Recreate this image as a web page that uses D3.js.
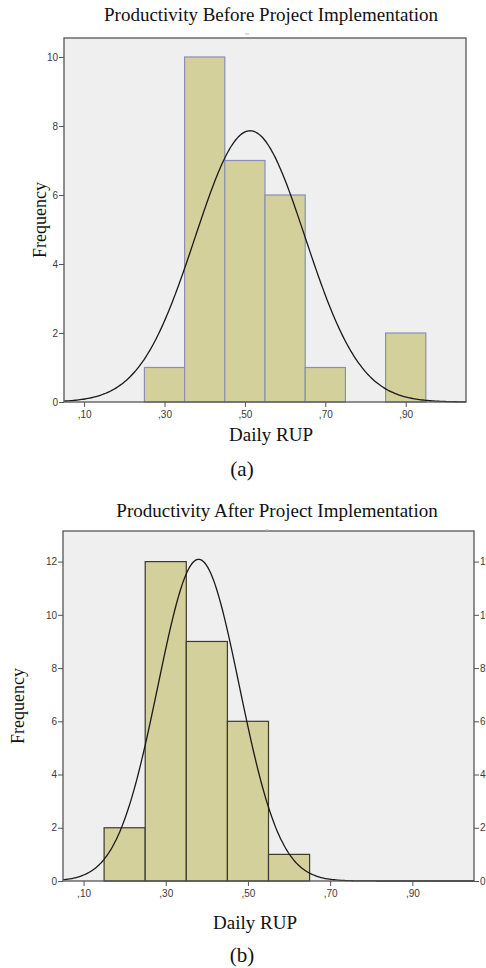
<!DOCTYPE html>
<html>
<head>
<meta charset="utf-8">
<script src="https://cdn.jsdelivr.net/npm/d3@7"></script>
<style>
  body { margin: 0; background: #fff; }
  .tick text { font-family: "Liberation Sans", Arial, sans-serif; font-size: 10px; fill: #3a3a3a; }
  .serif { font-family: "Liberation Serif", "Times New Roman", serif; fill: #111; }
</style>
</head>
<body>
<div id="chart"></div>
<script>
// bin centres (bin width 0.1) and counts
const binWidth = 0.1
const binsBefore   = [0.3, 0.4, 0.5, 0.6, 0.7, 0.8, 0.9]
const countsBefore = [1, 10, 7, 6, 1, 0, 2]
const binsAfter    = [0.2, 0.3, 0.4, 0.5, 0.6]
const countsAfter  = [2, 12, 9, 6, 1]

// fitted normal curve (mean, std. dev.)
const fitBefore = {mean: 0.513, sd: 0.137}
const fitAfter  = {mean: 0.380, sd: 0.099}

const xTicks = [0.1, 0.3, 0.5, 0.7, 0.9]
const yTicksBefore = [0, 2, 4, 6, 8, 10]
const yTicksAfter  = [0, 2, 4, 6, 8, 10, 12]

const fmt = d => d3.format('.2f')(d).replace('0.', ',')

let svg = d3.select('#chart').append('svg')
    .attr('width', 486)
    .attr('height', 968)

function drawPanel(o){
    let g = svg.append('g')
    let x = d3.scaleLinear().domain([0.05, 1.05]).range([o.left, o.right])
    let y = d3.scaleLinear().domain([0, o.yMax]).range([o.bottom, o.top])

    // plot background
    g.append('rect')
        .attr('x', o.left).attr('y', o.top)
        .attr('width', o.right - o.left).attr('height', o.bottom - o.top)
        .attr('fill', '#efefef')

    let n = d3.sum(o.counts)
    g.selectAll('rect.bar')
        .data(o.bins.map((b, i) => ({b: b, c: o.counts[i]})).filter(d => d.c > 0))
        .enter()
        .append('rect')
        .attr('class', 'bar')
        .attr('x', d => x(d.b - binWidth/2))
        .attr('width', d => x(d.b + binWidth/2) - x(d.b - binWidth/2))
        .attr('y', d => y(d.c))
        .attr('height', d => y(0) - y(d.c))
        .attr('fill', '#d4d09b')
        .attr('stroke', o.barStroke)
        .attr('stroke-width', 1.2)

    // normal curve scaled to counts
    let pts = d3.range(0.05, 1.0501, 0.004).map(v => [v,
        n * binWidth / (o.fit.sd * Math.sqrt(2*Math.PI)) *
        Math.exp(-0.5 * Math.pow((v - o.fit.mean)/o.fit.sd, 2))])
    g.append('path')
        .datum(pts)
        .attr('fill', 'none')
        .attr('stroke', '#1a1a1a')
        .attr('stroke-width', 1.3)
        .attr('d', d3.line().x(d => x(d[0])).y(d => y(d[1])).curve(d3.curveBasis))

    // frame
    g.append('rect')
        .attr('x', o.left).attr('y', o.top)
        .attr('width', o.right - o.left).attr('height', o.bottom - o.top)
        .attr('fill', 'none')
        .attr('stroke', '#555').attr('stroke-width', 1.3)

    let ax = g.append('g').attr('transform', `translate(0,${o.bottom})`)
        .call(d3.axisBottom(x).tickValues(xTicks).tickFormat(fmt).tickSize(5).tickPadding(4))
    ax.select('.domain').remove()

    let ay = g.append('g').attr('transform', `translate(${o.left},0)`)
        .call(d3.axisLeft(y).tickValues(o.yTicks).tickSize(5).tickPadding(1))
    ay.select('.domain').remove()

    if (o.rightAxis){
        let ar = g.append('g').attr('transform', `translate(${o.right},0)`)
            .call(d3.axisRight(y).tickValues(o.yTicks).tickSize(5).tickPadding(1))
        ar.select('.domain').remove()
    }
    g.selectAll('.tick line').attr('stroke', '#555')

    g.append('text').attr('class', 'serif')
        .attr('x', o.titleX).attr('y', o.titleY)
        .attr('text-anchor', 'middle').attr('font-size', 19)
        .text(o.title)
    // faint dash under the title, as in the source
    g.append('line')
        .attr('x1', o.dashX - 2).attr('x2', o.dashX + 2)
        .attr('y1', o.titleY + 13).attr('y2', o.titleY + 13)
        .attr('stroke', '#bbb')
    g.append('text').attr('class', 'serif')
        .attr('transform', `translate(${o.ylabX},${(o.top + o.bottom)/2}) rotate(-90)`)
        .attr('text-anchor', 'middle').attr('font-size', 18)
        .text('Frequency')
    g.append('text').attr('class', 'serif')
        .attr('x', o.xlabX).attr('y', o.xlabY)
        .attr('text-anchor', 'middle').attr('font-size', 19)
        .text('Daily RUP')
    g.append('text').attr('class', 'serif')
        .attr('x', 242).attr('y', o.capY)
        .attr('text-anchor', 'middle').attr('font-size', 21)
        .text(o.caption)
}

drawPanel({
    left: 64, right: 466, top: 38, bottom: 402, yMax: 10.55,
    bins: binsBefore, counts: countsBefore, fit: fitBefore, yTicks: yTicksBefore,
    barStroke: '#8a8fb5', rightAxis: false,
    title: 'Productivity Before Project Implementation', titleX: 271, titleY: 21, dashX: 247,
    ylabX: 46, xlabX: 271, xlabY: 441, capY: 476, caption: '(a)'
})

drawPanel({
    left: 63, right: 474, top: 531, bottom: 881, yMax: 13.15,
    bins: binsAfter, counts: countsAfter, fit: fitAfter, yTicks: yTicksAfter,
    barStroke: '#3b3a2c', rightAxis: true,
    title: 'Productivity After Project Implementation', titleX: 277, titleY: 517, dashX: 267,
    ylabX: 24, xlabX: 255, xlabY: 929, capY: 962, caption: '(b)'
})
</script>
</body>
</html>
